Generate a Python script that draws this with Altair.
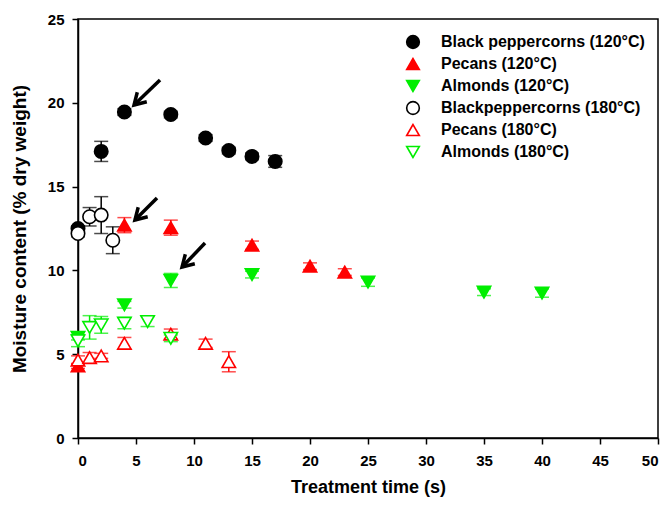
import altair as alt
import pandas as pd

series_names = [
    "Black peppercorns (120°C)",
    "Pecans (120°C)",
    "Almonds (120°C)",
    "Blackpeppercorns (180°C)",
    "Pecans (180°C)",
    "Almonds (180°C)",
]

bp120_x = [0, 2, 4, 8, 11, 13, 15, 17]
bp120_y = [12.5, 17.1, 19.45, 19.3, 17.9, 17.15, 16.8, 16.5]
bp120_e = [0.15, 0.6, 0.2, 0.2, 0.2, 0.2, 0.2, 0.35]

pe120_x = [0, 4, 8, 15, 20, 23]
pe120_y = [4.3, 12.7, 12.55, 11.5, 10.25, 9.9]
pe120_e = [0.15, 0.45, 0.45, 0.25, 0.2, 0.2]

al120_x = [0, 4, 8, 15, 25, 35, 40]
al120_y = [6.0, 7.95, 9.4, 9.75, 9.3, 8.7, 8.65]
al120_e = [0.15, 0.2, 0.42, 0.2, 0.25, 0.2, 0.25]

bp180_x = [0, 1, 2, 3]
bp180_y = [12.2, 13.2, 13.3, 11.8]
bp180_e = [0.2, 0.55, 1.1, 0.8]

pe180_x = [0, 1, 2, 4, 8, 11, 13]
pe180_y = [4.65, 4.8, 4.9, 5.65, 6.2, 5.65, 4.55]
pe180_e = [0.25, 0.3, 0.15, 0.35, 0.3, 0.25, 0.6]

al180_x = [0, 1, 2, 4, 6, 8]
al180_y = [5.8, 6.6, 6.75, 6.85, 6.95, 5.95]
al180_e = [0.35, 0.7, 0.5, 0.33, 0.3, 0.2]

stroke_colors = ["black", "#ff0000", "#00ee00", "black", "#ff0000", "#00ee00"]
fill_colors = ["black", "#ff0000", "#00ee00", "white", "white", "white"]
shapes = ["circle", "triangle-up", "triangle-down", "circle", "triangle-up", "triangle-down"]

# arrows (tail -> head) in data units
arrow_x1 = [7.07, 6.81, 10.95]
arrow_y1 = [21.36, 14.32, 11.63]
arrow_x2 = [4.83, 4.91, 8.97]
arrow_y2 = [19.87, 13.01, 10.2]

rows = []
for name, xs, ys, es in zip(
    series_names,
    [bp120_x, pe120_x, al120_x, bp180_x, pe180_x, al180_x],
    [bp120_y, pe120_y, al120_y, bp180_y, pe180_y, al180_y],
    [bp120_e, pe120_e, al120_e, bp180_e, pe180_e, al180_e],
):
    for x, y, e in zip(xs, ys, es):
        rows.append({"series": name, "x": x, "y": y, "lo": y - e, "hi": y + e})
df = pd.DataFrame(rows)

arrows = pd.DataFrame({"x1": arrow_x1, "y1": arrow_y1, "x2": arrow_x2, "y2": arrow_y2})
leg_df = pd.DataFrame({"series": series_names})

xscale = alt.Scale(domain=[0, 50], nice=False, zero=False)
yscale = alt.Scale(domain=[0, 25], nice=False, zero=False)

xaxis = alt.Axis(values=list(range(0, 51, 5)), title="Treatment time (s)", grid=False,
                 titlePadding=10, labelPadding=9, titleFontSize=18)
yaxis = alt.Axis(values=list(range(0, 26, 5)), title="Moisture content (% dry weight)", grid=False,
                 titlePadding=18, labelPadding=8, titleFontSize=19)

color_scale = alt.Scale(domain=series_names, range=stroke_colors)
stroke_scale = alt.Scale(domain=series_names, range=stroke_colors)
fill_scale = alt.Scale(domain=series_names, range=fill_colors)
shape_scale = alt.Scale(domain=series_names, range=shapes)

base = alt.Chart(df)

err = base.mark_rule(strokeWidth=1.5).encode(
    x=alt.X("x:Q", scale=xscale, axis=xaxis),
    y=alt.Y("lo:Q", scale=yscale, axis=yaxis),
    y2="hi:Q",
    color=alt.Color("series:N", scale=color_scale, legend=None),
)

caps_lo = base.mark_tick(orient="horizontal", size=14, thickness=1.5).encode(
    x="x:Q", y="lo:Q",
    color=alt.Color("series:N", scale=color_scale, legend=None),
)
caps_hi = base.mark_tick(orient="horizontal", size=14, thickness=1.5).encode(
    x="x:Q", y="hi:Q",
    color=alt.Color("series:N", scale=color_scale, legend=None),
)

pts = base.mark_point(size=180, strokeWidth=1.6, opacity=1).encode(
    x="x:Q",
    y="y:Q",
    stroke=alt.Stroke("series:N", scale=stroke_scale, legend=None),
    fill=alt.Fill("series:N", scale=fill_scale, legend=None),
    shape=alt.Shape("series:N", scale=shape_scale, legend=None),
    fillOpacity=alt.value(1),
)

shaft = alt.Chart(arrows).mark_rule(strokeWidth=3.5, color="black").encode(
    x="x1:Q", y="y1:Q", x2="x2:Q", y2="y2:Q"
)
head = alt.Chart(arrows).mark_point(
    shape="M -1.6 -0.95 L 0 0 L -1.6 0.95", size=200, angle=135, strokeWidth=3.5,
    color="black", filled=False, opacity=1, strokeJoin="miter", strokeCap="butt"
).encode(x="x2:Q", y="y2:Q")

main = alt.layer(err, caps_lo, caps_hi, pts, shaft, head)

# legend drawn inside the plot area
leg_y = alt.Y("series:N", scale=alt.Scale(domain=series_names, range=[23, 133], padding=0), axis=None)
leg_sym = alt.Chart(leg_df).mark_point(size=160, strokeWidth=1.6, opacity=1).encode(
    x=alt.value(335),
    y=leg_y,
    stroke=alt.Stroke("series:N", scale=stroke_scale, legend=None),
    fill=alt.Fill("series:N", scale=fill_scale, legend=None),
    shape=alt.Shape("series:N", scale=shape_scale, legend=None),
    fillOpacity=alt.value(1),
)
leg_txt = alt.Chart(leg_df).mark_text(
    align="left", baseline="middle", font="Liberation Sans", fontWeight="bold", fontSize=16, color="black"
).encode(
    x=alt.value(363),
    y=leg_y,
    text="series:N",
)
leg = alt.layer(leg_sym, leg_txt)

chart = alt.layer(main, leg).resolve_scale(y="independent").properties(
    width=580, height=419,
    autosize=alt.AutoSizeParams(type="none"),
    padding={"left": 70, "top": 11, "right": 4, "bottom": 60},
).configure_view(
    stroke="black", strokeWidth=1.5
).configure_axis(
    labelFont="Liberation Sans", labelFontWeight="bold", labelFontSize=15, labelColor="black",
    titleFont="Liberation Sans", titleFontWeight="bold", titleColor="black",
    domainColor="black", domainWidth=1.5, tickColor="black", tickWidth=1.5, tickSize=6,
)

chart.save("out.html", embed_options={"renderer": "svg", "actions": False})
